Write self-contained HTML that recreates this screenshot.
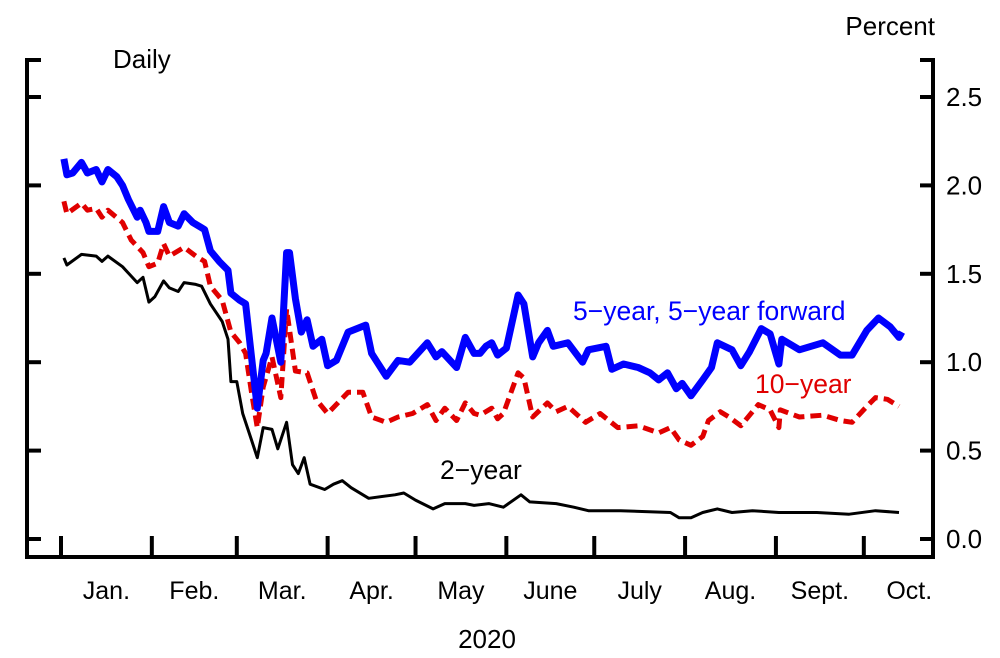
<!DOCTYPE html>
<html><head><meta charset="utf-8"><style>
html,body{margin:0;padding:0;background:#fff;}
svg{display:block;font-family:"Liberation Sans",Arial,sans-serif;}
</style></head><body>
<svg id="chart" width="1000" height="658" viewBox="0 0 1000 658">
<g id="axes"></g>
<g id="series"></g>
<text x="113" y="68" font-size="26">Daily</text>
<text x="935" y="35" font-size="26" text-anchor="end">Percent</text>
<text x="573" y="320" font-size="26.5" fill="#0000ff">5−year, 5−year forward</text>
<text x="755" y="393" font-size="26.5" fill="#e00000">10−year</text>
<text x="440" y="479" font-size="26.5" fill="#000">2−year</text>
<text x="487" y="648" font-size="26" text-anchor="middle">2020</text>
</svg>
<script>
const monthLabels=["Jan.","Feb.","Mar.","Apr.","May","June","July","Aug.","Sept.","Oct."];
const monthStarts=[0,31,60,91,121,152,182,213,244,274,305];
const yTicks=[0,0.5,1.0,1.5,2.0,2.5];
const yTickLabels=["0.0","0.5","1.0","1.5","2.0","2.5"];
const fwdDays=[1,2,4,7,9,12,14,16,19,21,23,26,27,29,30,33,35,37,40,42,45,48,49,51,54,57,58,61,63,65,67,69,70,72,75,77,78,80,82,84,86,89,91,94,98,104,106,111,115,119,125,128,130,135,138,141,143,145,147,149,152,156,158,161,163,166,168,173,178,180,186,188,192,197,201,204,207,210,212,215,219,222,224,229,232,235,239,242,245,246,252,260,266,270,275,279,283,286,287];
const fwdVals=[2.15,2.06,2.07,2.13,2.07,2.09,2.02,2.09,2.05,2.00,1.92,1.82,1.86,1.79,1.74,1.74,1.88,1.79,1.77,1.84,1.79,1.76,1.75,1.63,1.57,1.52,1.39,1.35,1.33,1.03,0.74,1.01,1.05,1.25,1.00,1.62,1.62,1.36,1.17,1.24,1.09,1.13,0.98,1.01,1.17,1.21,1.05,0.92,1.01,1.00,1.11,1.03,1.06,0.97,1.14,1.05,1.05,1.09,1.11,1.04,1.08,1.38,1.33,1.03,1.11,1.18,1.09,1.11,1.00,1.07,1.09,0.96,0.99,0.97,0.94,0.90,0.94,0.85,0.88,0.81,0.90,0.97,1.11,1.07,0.98,1.06,1.19,1.16,0.99,1.13,1.07,1.11,1.04,1.04,1.18,1.25,1.20,1.14,1.17];
const tenDays=[1,2,7,9,12,14,16,21,24,28,30,33,35,37,42,46,49,51,55,58,61,63,65,67,69,72,75,77,80,84,87,91,98,103,106,111,115,120,125,128,131,135,138,141,143,147,149,151,156,158,161,166,169,173,179,184,190,197,204,208,211,215,219,221,225,228,232,238,242,245,245.5,252,260,266,270,275,278,282,286];
const tenVals=[1.91,1.84,1.90,1.86,1.87,1.82,1.86,1.79,1.69,1.62,1.54,1.56,1.67,1.60,1.65,1.60,1.57,1.43,1.35,1.17,1.11,1.05,0.83,0.63,0.86,1.03,0.80,1.30,0.95,0.94,0.79,0.71,0.83,0.83,0.69,0.66,0.69,0.71,0.76,0.67,0.74,0.67,0.77,0.71,0.70,0.74,0.68,0.71,0.94,0.91,0.69,0.77,0.72,0.75,0.66,0.71,0.63,0.64,0.60,0.63,0.56,0.53,0.58,0.67,0.72,0.69,0.64,0.76,0.73,0.63,0.73,0.69,0.70,0.67,0.66,0.75,0.80,0.79,0.75];
const twoDays=[1,2,7,12,14,16,21,26,28,30,32,35,37,40,42,46,48,51,55,57,58,60,62,65,67,69,72,74,77,79,81,83,85,90,93,96,99,105,114,117,121,127,131,138,141,146,151,157,160,169,175,180,191,208,211,215,219,224,229,236,245,258,269,278,286];
const twoVals=[1.59,1.55,1.61,1.60,1.57,1.60,1.54,1.45,1.48,1.34,1.37,1.46,1.42,1.40,1.45,1.44,1.43,1.33,1.23,1.13,0.89,0.89,0.71,0.56,0.46,0.63,0.62,0.51,0.66,0.42,0.37,0.46,0.31,0.28,0.31,0.33,0.29,0.23,0.25,0.26,0.22,0.17,0.20,0.20,0.19,0.20,0.18,0.25,0.21,0.20,0.18,0.16,0.16,0.15,0.12,0.12,0.15,0.17,0.15,0.16,0.15,0.15,0.14,0.16,0.15];

const NS="http://www.w3.org/2000/svg";
const xS=d=>61+d*2.93;
const yS=v=>539-v*176.8;
function mk(tag,attrs,parent){const e=document.createElementNS(NS,tag);for(const k in attrs)e.setAttribute(k,attrs[k]);parent.appendChild(e);return e;}
const axes=document.getElementById('axes');
const L=27,R=933,T=60,B=557;
let e;
e=mk('path',{d:`M${L+14},${T} H${L} V${B} H${R+2} M${R-13},${T} H${R} V${B}`,fill:'none',stroke:'#000','stroke-width':4},axes);


yTicks.forEach((v,i)=>{
  const y=yS(v);
  let t=mk('line',{x1:L,x2:L+14,y1:y,y2:y,stroke:'#000','stroke-width':4},axes);
  
  
  t=mk('line',{x1:R-13,x2:R,y1:y,y2:y,stroke:'#000','stroke-width':4},axes);
  
  
  const lab=mk('text',{x:946,y:y+9,'font-size':26},axes);
  lab.textContent=yTickLabels[i];
  
  
});
monthLabels.forEach((m,i)=>{
  const x=xS(monthStarts[i]);
  let t=mk('line',{x1:x,x2:x,y1:B,y2:B-21,stroke:'#000','stroke-width':4},axes);
  
  
  const lab=mk('text',{x:(x+xS(monthStarts[i+1]))/2,y:599,'font-size':25,'text-anchor':'middle'},axes);
  lab.textContent=m;
  
  
});
const sg=document.getElementById('series');
function line(days,vals,attrs){return mk('path',Object.assign({d:days.map((d,i)=>(i?'L':'M')+xS(d).toFixed(1)+','+yS(vals[i]).toFixed(1)).join(''),fill:'none','stroke-linejoin':'round'},attrs),sg);}
e=line(twoDays,twoVals,{stroke:'#000','stroke-width':3});


e=line(tenDays,tenVals,{stroke:'#e00000','stroke-width':5,'stroke-dasharray':'11 6'});


e=line(fwdDays,fwdVals,{stroke:'#0000ff','stroke-width':7});


</script>
</body></html>
